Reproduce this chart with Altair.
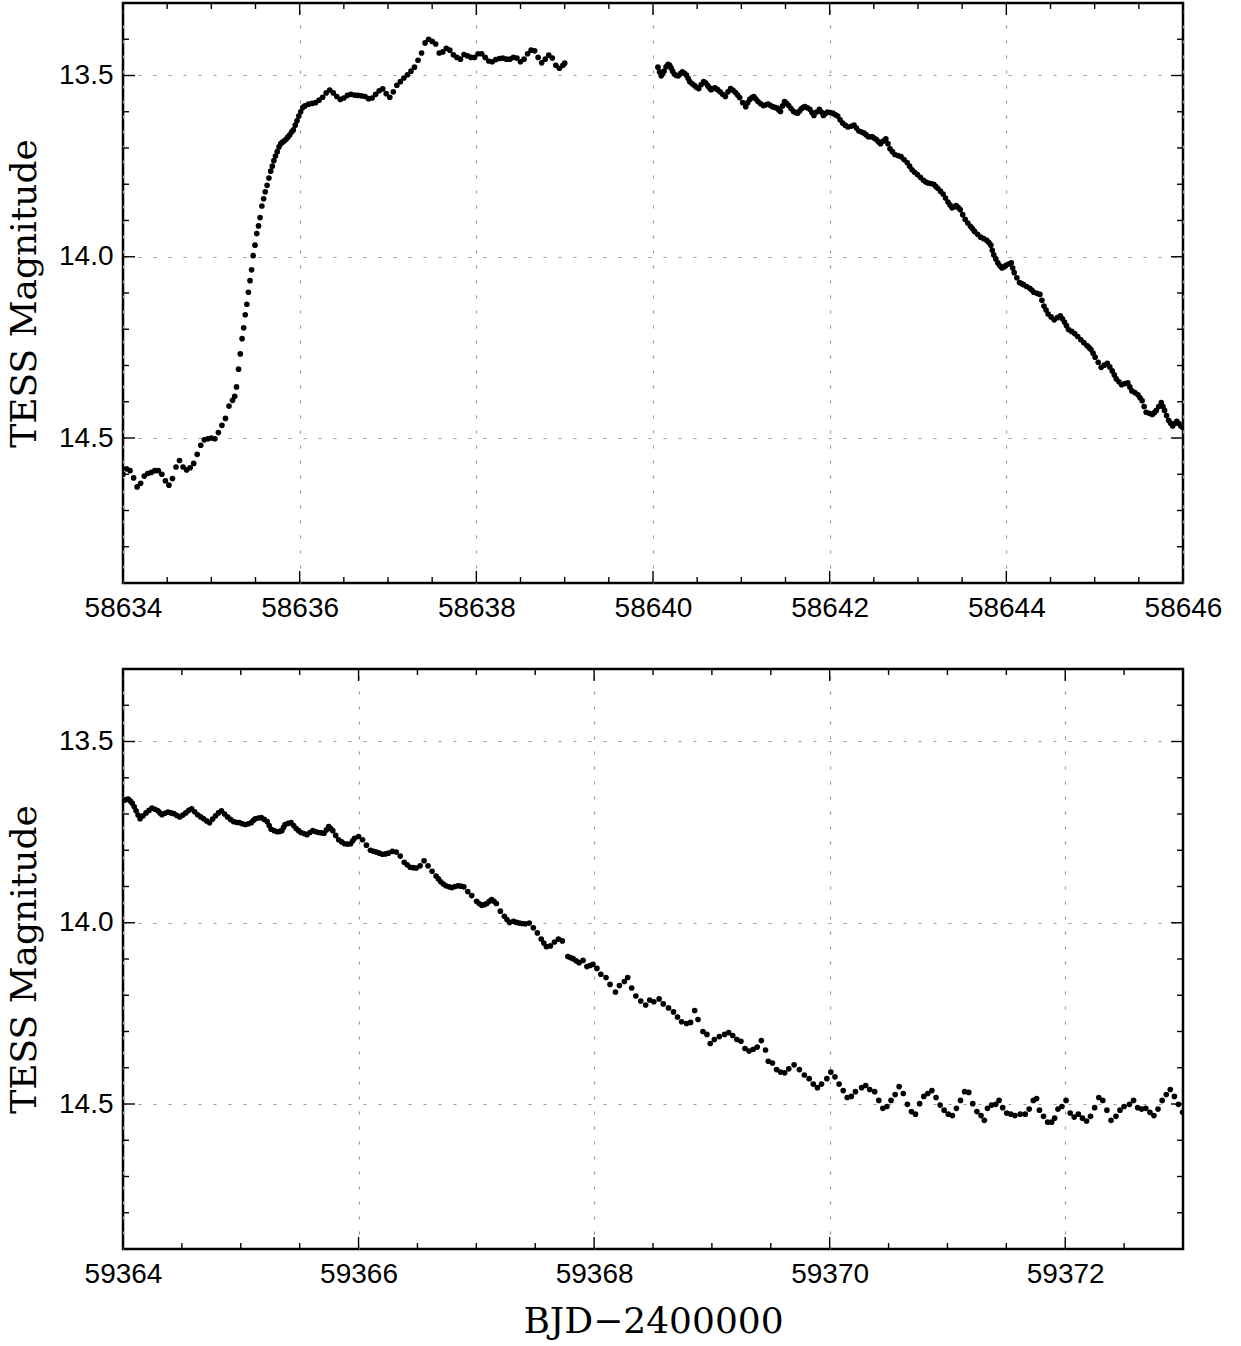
import altair as alt
import pandas as pd

# ---------------- data ----------------
# 2019 outburst, first orbit
seg1_t = [58634.00, 58634.04, 58634.08, 58634.12, 58634.16, 58634.20, 58634.24, 58634.28, 58634.32, 58634.36,
          58634.40, 58634.44, 58634.48, 58634.52, 58634.56, 58634.60, 58634.64, 58634.68, 58634.72, 58634.76,
          58634.80, 58634.84, 58634.88, 58634.92, 58634.96, 58635.00, 58635.04, 58635.08, 58635.12, 58635.16,
          58635.20, 58635.24,
          58635.265, 58635.285, 58635.308, 58635.328, 58635.348, 58635.366, 58635.384, 58635.402, 58635.420, 58635.438,
          58635.456, 58635.474, 58635.494, 58635.514, 58635.534, 58635.552, 58635.572, 58635.592, 58635.610, 58635.631,
          58635.652, 58635.672, 58635.690, 58635.708, 58635.726, 58635.746, 58635.766, 58635.786, 58635.806, 58635.826,
          58635.846, 58635.866, 58635.888, 58635.908, 58635.928, 58635.950, 58635.970, 58635.990, 58636.012, 58636.036,
          58636.06, 58636.10, 58636.14, 58636.18, 58636.22, 58636.26, 58636.30, 58636.34, 58636.38, 58636.42,
          58636.46, 58636.50, 58636.54, 58636.58, 58636.62, 58636.66, 58636.70, 58636.74, 58636.78, 58636.82,
          58636.86, 58636.90, 58636.94, 58636.98,
          58637.02, 58637.06, 58637.10, 58637.14, 58637.18, 58637.22, 58637.26, 58637.30, 58637.34, 58637.38,
          58637.42, 58637.46, 58637.50, 58637.54, 58637.58, 58637.62, 58637.66, 58637.70, 58637.74, 58637.78,
          58637.82, 58637.86, 58637.90, 58637.94, 58637.98,
          58638.02, 58638.06, 58638.10, 58638.14, 58638.18, 58638.22, 58638.26, 58638.30, 58638.34, 58638.38,
          58638.42, 58638.46, 58638.50, 58638.54, 58638.58, 58638.62, 58638.66, 58638.70, 58638.74, 58638.78,
          58638.82, 58638.86, 58638.90, 58638.94, 58638.98, 58639.00]
seg1_m = [14.600, 14.585, 14.590, 14.610, 14.635, 14.625, 14.605, 14.598, 14.595, 14.590,
          14.590, 14.600, 14.618, 14.630, 14.612, 14.580, 14.562, 14.580, 14.588, 14.582,
          14.570, 14.545, 14.520, 14.505, 14.502, 14.500, 14.502, 14.485, 14.465, 14.446,
          14.412, 14.396,
          14.385, 14.359, 14.310, 14.268, 14.226, 14.196, 14.160, 14.131, 14.098, 14.066,
          14.036, 13.997, 13.968, 13.936, 13.915, 13.892, 13.860, 13.840, 13.821, 13.803,
          13.783, 13.764, 13.750, 13.735, 13.722, 13.710, 13.697, 13.688, 13.684, 13.680,
          13.676, 13.670, 13.664, 13.656, 13.650, 13.637, 13.625, 13.612, 13.600, 13.588,
          13.584, 13.579, 13.577, 13.575, 13.568, 13.560, 13.548, 13.540, 13.548, 13.558,
          13.566, 13.562, 13.555, 13.552, 13.554, 13.555, 13.556, 13.558, 13.564, 13.562,
          13.552, 13.542, 13.537, 13.550,
          13.560, 13.545, 13.527, 13.517, 13.507, 13.498, 13.488, 13.477, 13.458, 13.438,
          13.410, 13.400, 13.406, 13.413, 13.438, 13.435, 13.425, 13.430, 13.443, 13.450,
          13.455, 13.442, 13.446, 13.450, 13.450,
          13.440, 13.440, 13.450, 13.460, 13.462, 13.456, 13.453, 13.452, 13.455, 13.455,
          13.450, 13.452, 13.462, 13.455, 13.440, 13.430, 13.432, 13.450, 13.465, 13.455,
          13.444, 13.452, 13.472, 13.480, 13.472, 13.466]

# 2019 outburst, second orbit
seg2_t = [58640.056, 58640.074, 58640.093, 58640.109, 58640.125, 58640.148, 58640.171, 58640.188, 58640.204, 58640.222,
          58640.241, 58640.264, 58640.287, 58640.310, 58640.333, 58640.356, 58640.379, 58640.398, 58640.416, 58640.444,
          58640.472, 58640.495, 58640.518, 58640.546, 58640.574, 58640.597, 58640.620, 58640.638, 58640.657, 58640.680,
          58640.703, 58640.731, 58640.759, 58640.789, 58640.819, 58640.849, 58640.879, 58640.906, 58640.934, 58640.958,
          58640.981, 58641.015, 58641.050, 58641.073, 58641.096, 58641.119, 58641.142, 58641.165, 58641.189, 58641.219,
          58641.249, 58641.276, 58641.304, 58641.327, 58641.351, 58641.378, 58641.406, 58641.424, 58641.443, 58641.466,
          58641.489, 58641.512, 58641.536, 58641.563, 58641.591, 58641.614, 58641.637, 58641.660, 58641.680, 58641.700,
          58641.721, 58641.748, 58641.776, 58641.799, 58641.822, 58641.852, 58641.883, 58641.906, 58641.929, 58641.952,
          58641.975, 58642.005, 58642.035, 58642.063, 58642.091, 58642.118, 58642.146, 58642.176, 58642.206, 58642.241,
          58642.276, 58642.303, 58642.331, 58642.361, 58642.391, 58642.414, 58642.438, 58642.461, 58642.484, 58642.507,
          58642.530, 58642.553, 58642.576, 58642.606, 58642.636, 58642.660, 58642.683, 58642.710, 58642.738, 58642.773,
          58642.808, 58642.842, 58642.877, 58642.905, 58642.932, 58642.962, 58642.993, 58643.027, 58643.062, 58643.085,
          58643.108, 58643.143, 58643.178, 58643.201, 58643.224, 58643.254, 58643.284, 58643.311, 58643.339, 58643.362,
          58643.386, 58643.409, 58643.432, 58643.455, 58643.478, 58643.506, 58643.534, 58643.564, 58643.594, 58643.617,
          58643.640, 58643.675, 58643.709, 58643.744, 58643.779, 58643.802, 58643.825, 58643.841, 58643.858, 58643.881,
          58643.904, 58643.927, 58643.950, 58643.973, 58643.996, 58644.026, 58644.056, 58644.072, 58644.089, 58644.119,
          58644.149, 58644.172, 58644.195, 58644.230, 58644.265, 58644.288, 58644.311, 58644.345, 58644.380, 58644.403,
          58644.426, 58644.450, 58644.473, 58644.507, 58644.542, 58644.577, 58644.611, 58644.635, 58644.658, 58644.681,
          58644.704, 58644.739, 58644.773, 58644.808, 58644.843, 58644.877, 58644.912, 58644.935, 58644.958, 58644.982,
          58645.005, 58645.040, 58645.074, 58645.109, 58645.143, 58645.171, 58645.199, 58645.222, 58645.245, 58645.275,
          58645.305, 58645.340, 58645.375, 58645.398, 58645.421, 58645.456, 58645.490, 58645.514, 58645.537, 58645.560,
          58645.583, 58645.618, 58645.652, 58645.675, 58645.698, 58645.726, 58645.754, 58645.773, 58645.791, 58645.814,
          58645.837, 58645.860, 58645.883, 58645.907, 58645.930, 58645.953, 58645.976, 58645.995]
seg2_m = [13.477, 13.490, 13.501, 13.494, 13.488, 13.476, 13.469, 13.472, 13.479, 13.488,
          13.496, 13.500, 13.501, 13.495, 13.490, 13.494, 13.499, 13.508, 13.517, 13.523,
          13.528, 13.533, 13.536, 13.525, 13.517, 13.521, 13.528, 13.534, 13.539, 13.536,
          13.534, 13.539, 13.545, 13.552, 13.558, 13.545, 13.536, 13.541, 13.547, 13.554,
          13.561, 13.575, 13.586, 13.575, 13.566, 13.561, 13.558, 13.565, 13.572, 13.578,
          13.583, 13.581, 13.579, 13.582, 13.586, 13.588, 13.590, 13.595, 13.599, 13.584,
          13.572, 13.577, 13.583, 13.591, 13.599, 13.602, 13.604, 13.598, 13.592, 13.588,
          13.586, 13.589, 13.593, 13.602, 13.610, 13.601, 13.593, 13.601, 13.610, 13.605,
          13.601, 13.602, 13.604, 13.608, 13.612, 13.622, 13.631, 13.637, 13.642, 13.640,
          13.637, 13.645, 13.653, 13.656, 13.659, 13.664, 13.669, 13.669, 13.669, 13.673,
          13.677, 13.683, 13.688, 13.681, 13.675, 13.688, 13.702, 13.710, 13.718, 13.721,
          13.724, 13.732, 13.740, 13.750, 13.760, 13.767, 13.773, 13.781, 13.789, 13.793,
          13.796, 13.798, 13.800, 13.806, 13.811, 13.819, 13.827, 13.838, 13.849, 13.857,
          13.865, 13.862, 13.859, 13.864, 13.870, 13.884, 13.897, 13.907, 13.916, 13.923,
          13.930, 13.938, 13.946, 13.950, 13.955, 13.961, 13.968, 13.982, 13.995, 14.006,
          14.017, 14.025, 14.031, 14.028, 14.024, 14.020, 14.017, 14.031, 14.044, 14.058,
          14.071, 14.074, 14.077, 14.082, 14.087, 14.092, 14.098, 14.101, 14.104, 14.120,
          14.136, 14.147, 14.158, 14.166, 14.174, 14.168, 14.163, 14.171, 14.180, 14.190,
          14.201, 14.206, 14.212, 14.220, 14.229, 14.237, 14.245, 14.250, 14.256, 14.266,
          14.277, 14.291, 14.305, 14.299, 14.294, 14.304, 14.315, 14.326, 14.337, 14.345,
          14.353, 14.350, 14.348, 14.359, 14.370, 14.375, 14.381, 14.389, 14.397, 14.413,
          14.429, 14.432, 14.435, 14.430, 14.424, 14.413, 14.402, 14.413, 14.424, 14.438,
          14.451, 14.459, 14.467, 14.460, 14.454, 14.460, 14.467, 14.470]

# 2021 decline: (BJD-2400000, TESS magnitude)
seg3 = [
    (59364.010, 13.662), (59364.027, 13.660), (59364.044, 13.659), (59364.061, 13.664), (59364.078, 13.670),
    (59364.095, 13.680), (59364.111, 13.691), (59364.128, 13.703), (59364.145, 13.713), (59364.170, 13.705),
    (59364.196, 13.697), (59364.221, 13.690), (59364.246, 13.684), (59364.272, 13.687), (59364.297, 13.691),
    (59364.314, 13.697), (59364.331, 13.702), (59364.356, 13.698), (59364.381, 13.695), (59364.407, 13.697),
    (59364.432, 13.699), (59364.457, 13.704), (59364.482, 13.708), (59364.508, 13.703), (59364.533, 13.697),
    (59364.558, 13.690), (59364.583, 13.686), (59364.609, 13.694), (59364.634, 13.702), (59364.660, 13.708),
    (59364.685, 13.713), (59364.710, 13.719), (59364.735, 13.724), (59364.761, 13.714), (59364.786, 13.705),
    (59364.811, 13.697), (59364.836, 13.691), (59364.862, 13.700), (59364.887, 13.708), (59364.913, 13.715),
    (59364.938, 13.721), (59364.963, 13.723), (59364.988, 13.724),
    (59365.014, 13.727), (59365.039, 13.729), (59365.064, 13.727), (59365.089, 13.724), (59365.106, 13.718),
    (59365.123, 13.713), (59365.149, 13.711), (59365.174, 13.710), (59365.199, 13.715), (59365.224, 13.721),
    (59365.241, 13.732), (59365.258, 13.742), (59365.284, 13.746), (59365.309, 13.749), (59365.329, 13.748),
    (59365.349, 13.746), (59365.363, 13.737), (59365.376, 13.729), (59365.402, 13.726), (59365.427, 13.724),
    (59365.449, 13.732), (59365.470, 13.740), (59365.491, 13.746), (59365.511, 13.751), (59365.537, 13.754),
    (59365.562, 13.757), (59365.587, 13.751), (59365.612, 13.746), (59365.638, 13.749), (59365.663, 13.751),
    (59365.685, 13.752), (59365.707, 13.753), (59365.727, 13.744), (59365.747, 13.735), (59365.764, 13.740),
    (59365.781, 13.746), (59365.806, 13.759), (59365.831, 13.771), (59365.857, 13.777), (59365.882, 13.782),
    (59365.908, 13.783), (59365.933, 13.782), (59365.950, 13.774), (59365.966, 13.767),
    (59366.000, 13.762), (59366.034, 13.771), (59366.067, 13.786), (59366.101, 13.800), (59366.127, 13.803),
    (59366.152, 13.805), (59366.177, 13.808), (59366.202, 13.811), (59366.228, 13.810), (59366.253, 13.808),
    (59366.287, 13.803), (59366.320, 13.805), (59366.354, 13.816), (59366.388, 13.833), (59366.413, 13.840),
    (59366.438, 13.847), (59366.464, 13.848), (59366.489, 13.849), (59366.523, 13.843), (59366.556, 13.829),
    (59366.590, 13.843), (59366.624, 13.858), (59366.658, 13.871), (59366.678, 13.879), (59366.698, 13.887),
    (59366.720, 13.893), (59366.742, 13.898), (59366.768, 13.901), (59366.793, 13.903), (59366.818, 13.900),
    (59366.843, 13.898), (59366.869, 13.899), (59366.894, 13.901), (59366.927, 13.914), (59366.961, 13.925),
    (59367.002, 13.941), (59367.024, 13.947), (59367.045, 13.952), (59367.067, 13.950), (59367.089, 13.947),
    (59367.110, 13.941), (59367.130, 13.936), (59367.150, 13.941), (59367.170, 13.947), (59367.204, 13.968),
    (59367.238, 13.982), (59367.260, 13.991), (59367.282, 13.999), (59367.315, 13.996), (59367.341, 13.999),
    (59367.366, 14.001), (59367.391, 14.002), (59367.416, 14.003), (59367.450, 14.001), (59367.484, 14.014),
    (59367.518, 14.028), (59367.551, 14.045), (59367.573, 14.056), (59367.595, 14.066), (59367.629, 14.064),
    (59367.663, 14.053), (59367.697, 14.045), (59367.730, 14.050), (59367.777, 14.093), (59367.799, 14.096),
    (59367.821, 14.099), (59367.847, 14.105), (59367.872, 14.110), (59367.906, 14.104), (59367.939, 14.121),
    (59367.965, 14.118), (59367.990, 14.115),
    (59368.024, 14.126), (59368.057, 14.142), (59368.101, 14.151), (59368.135, 14.170), (59368.181, 14.191),
    (59368.215, 14.173), (59368.257, 14.162), (59368.285, 14.151), (59368.319, 14.180), (59368.354, 14.202),
    (59368.396, 14.216), (59368.438, 14.227), (59368.472, 14.213), (59368.507, 14.218), (59368.552, 14.210),
    (59368.587, 14.224), (59368.632, 14.235), (59368.674, 14.246), (59368.708, 14.260), (59368.743, 14.273),
    (59368.785, 14.278), (59368.819, 14.275), (59368.854, 14.242), (59368.882, 14.267), (59368.924, 14.300),
    (59368.958, 14.308), (59368.986, 14.333),
    (59369.021, 14.322), (59369.063, 14.314), (59369.108, 14.308), (59369.142, 14.303), (59369.177, 14.311),
    (59369.212, 14.322), (59369.247, 14.327), (59369.281, 14.347), (59369.316, 14.354), (59369.351, 14.349),
    (59369.385, 14.343), (59369.420, 14.325), (59369.455, 14.351), (59369.479, 14.382), (59369.514, 14.387),
    (59369.549, 14.405), (59369.583, 14.412), (59369.618, 14.414), (59369.653, 14.403), (59369.698, 14.392),
    (59369.743, 14.405), (59369.785, 14.420), (59369.826, 14.430), (59369.861, 14.445), (59369.896, 14.455),
    (59369.931, 14.445), (59369.976, 14.430),
    (59370.010, 14.412), (59370.045, 14.425), (59370.080, 14.445), (59370.115, 14.463), (59370.149, 14.482),
    (59370.184, 14.479), (59370.219, 14.466), (59370.271, 14.455), (59370.306, 14.449), (59370.340, 14.460),
    (59370.382, 14.466), (59370.417, 14.490), (59370.451, 14.512), (59370.486, 14.507), (59370.521, 14.490),
    (59370.556, 14.474), (59370.590, 14.452), (59370.625, 14.471), (59370.660, 14.501), (59370.694, 14.521),
    (59370.729, 14.528), (59370.764, 14.499), (59370.799, 14.479), (59370.833, 14.471), (59370.868, 14.463),
    (59370.903, 14.482), (59370.938, 14.503), (59370.972, 14.517),
    (59371.007, 14.528), (59371.042, 14.532), (59371.076, 14.512), (59371.111, 14.490), (59371.146, 14.466),
    (59371.181, 14.468), (59371.215, 14.499), (59371.250, 14.521), (59371.285, 14.532), (59371.313, 14.545),
    (59371.340, 14.512), (59371.375, 14.503), (59371.410, 14.501), (59371.438, 14.490), (59371.469, 14.510),
    (59371.503, 14.525), (59371.538, 14.528), (59371.573, 14.532), (59371.618, 14.528), (59371.660, 14.528),
    (59371.694, 14.514), (59371.729, 14.490), (59371.757, 14.485), (59371.781, 14.517), (59371.816, 14.534),
    (59371.851, 14.550), (59371.885, 14.550), (59371.910, 14.539), (59371.938, 14.514), (59371.972, 14.507),
    (59372.007, 14.490), (59372.042, 14.525), (59372.076, 14.536), (59372.111, 14.528), (59372.146, 14.539),
    (59372.181, 14.547), (59372.215, 14.534), (59372.250, 14.510), (59372.285, 14.482), (59372.319, 14.490),
    (59372.354, 14.517), (59372.389, 14.545), (59372.431, 14.534), (59372.465, 14.517), (59372.500, 14.507),
    (59372.545, 14.501), (59372.580, 14.490), (59372.615, 14.510), (59372.649, 14.514), (59372.684, 14.512),
    (59372.719, 14.523), (59372.753, 14.532), (59372.788, 14.514), (59372.823, 14.490), (59372.858, 14.474),
    (59372.892, 14.460), (59372.927, 14.479), (59372.962, 14.501), (59372.997, 14.523),
]
seg3_t = [p[0] for p in seg3]
seg3_m = [p[1] for p in seg3]

# axis ranges and tick values
top_range = [58634, 58646]
bot_range = [59364, 59373]
mag_range = [13.3, 14.9]
top_major = [58634, 58636, 58638, 58640, 58642, 58644, 58646]
top_minor = [58634.5, 58635, 58635.5, 58636.5, 58637, 58637.5, 58638.5, 58639, 58639.5,
             58640.5, 58641, 58641.5, 58642.5, 58643, 58643.5, 58644.5, 58645, 58645.5]
bot_major = [59364, 59366, 59368, 59370, 59372]
bot_minor = [59364.5, 59365, 59365.5, 59366.5, 59367, 59367.5, 59368.5, 59369, 59369.5,
             59370.5, 59371, 59371.5, 59372.5]
mag_major = [13.5, 14.0, 14.5]
mag_minor = [13.4, 13.6, 13.7, 13.8, 13.9, 14.1, 14.2, 14.3, 14.4, 14.6, 14.7, 14.8]

x_title = "BJD\u22122400000"
y_title = "TESS Magnitude"

# ---------------- chart ----------------
W, H = 1060, 580
MAJ, MIN = 12, 6
LABEL_FONT = "Liberation Sans"
TITLE_FONT = "DejaVu Serif"
GRID = dict(grid=True, gridDash=[3, 12], gridColor="#9a9a9a", gridWidth=1.2)
LAB = dict(labelFont=LABEL_FONT, labelFontSize=28, labelColor="black",
           labelFlush=False, labelOverlap=False, ticks=False, tickSize=0, domain=False)
TIT = dict(titleFont=TITLE_FONT, titleFontSize=36, titleFontWeight="normal", titleColor="black")


def panel(t, m, xr, xmaj, xmin, show_title):
    xs = alt.Scale(domain=xr, nice=False, zero=False)
    ys = alt.Scale(domain=mag_range, reverse=True, nice=False, zero=False)
    xaxis_kw = dict(values=xmaj, format="d", labelPadding=11, **GRID, **LAB)
    if show_title:
        xaxis_kw.update(titlePadding=16, **TIT)
    xaxis = alt.Axis(**xaxis_kw)
    yaxis = alt.Axis(values=mag_major, format=".1f", labelPadding=10, titlePadding=15,
                     **GRID, **LAB, **TIT)
    xtitle = x_title if show_title else None
    X = lambda: alt.X("t:Q", scale=xs, axis=xaxis, title=xtitle)
    Y = lambda: alt.Y("m:Q", scale=ys, axis=yaxis, title=y_title)

    pts = alt.Chart(pd.DataFrame({"t": t, "m": m})).mark_circle(
        size=32, color="black", opacity=1, clip=True).encode(x=X(), y=Y())

    layers = [pts]
    for vals, ln in ((xmaj, MAJ), (xmin, MIN)):
        d = pd.DataFrame({"t": vals})
        layers.append(alt.Chart(d).mark_rule(color="black", strokeWidth=1.4).encode(
            x=X(), y=alt.value(H), y2=alt.value(H - ln)))
        layers.append(alt.Chart(d).mark_rule(color="black", strokeWidth=1.4).encode(
            x=X(), y=alt.value(0), y2=alt.value(ln)))
    for vals, ln in ((mag_major, MAJ), (mag_minor, MIN)):
        d = pd.DataFrame({"m": vals})
        layers.append(alt.Chart(d).mark_rule(color="black", strokeWidth=1.4).encode(
            y=Y(), x=alt.value(0), x2=alt.value(ln)))
        layers.append(alt.Chart(d).mark_rule(color="black", strokeWidth=1.4).encode(
            y=Y(), x=alt.value(W), x2=alt.value(W - ln)))
    return alt.layer(*layers).properties(width=W, height=H)


top = panel(seg1_t + seg2_t, seg1_m + seg2_m, top_range, top_major, top_minor, False)
bottom = panel(seg3_t, seg3_m, bot_range, bot_major, bot_minor, True)

chart = alt.vconcat(top, bottom, spacing=43).properties(
    padding={"left": 5, "top": 1, "right": 5, "bottom": 5},
    background="white",
).configure_view(stroke="black", strokeWidth=2.5)

chart.save("out.html", embed_options={"renderer": "svg", "actions": False})
